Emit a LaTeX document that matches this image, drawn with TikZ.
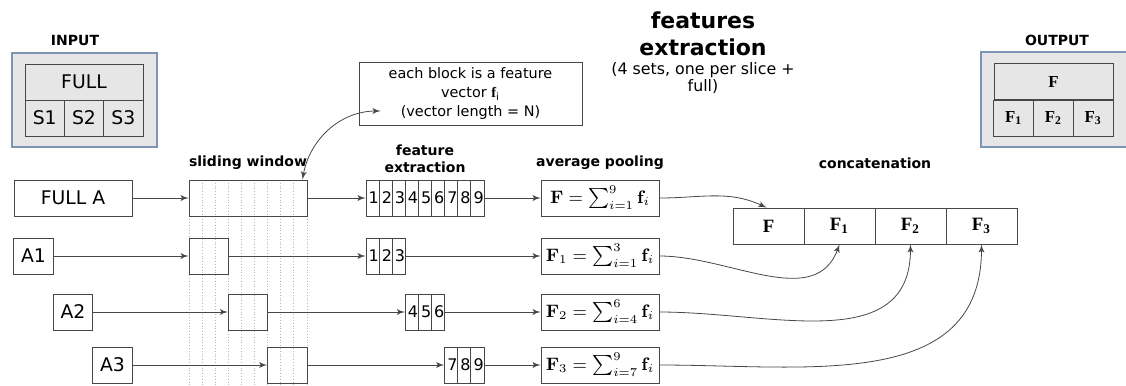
\documentclass[tikz,border=0pt]{standalone}
\usepackage[no-math]{fontspec}
\setmainfont{DejaVu Sans}
\newfontfamily\tms{Liberation Serif}
\usetikzlibrary{arrows}

\definecolor{linegray}{HTML}{474747}
\definecolor{panelfill}{HTML}{E6E6E6}
\definecolor{panelline}{HTML}{7A95B5}
\definecolor{gridgray}{HTML}{B8B8B8}

\begin{document}
\begin{tikzpicture}[x=0.5pt,y=0.5pt,->,>=latex',
        every node/.style={inner sep=0pt},
        box/.style={draw=linegray,line width=0.45pt,minimum height=18pt},
        bigbox/.style={box,minimum width=59pt,font=\fontsize{9.4}{11}\selectfont},
        smallbox/.style={box,minimum width=19.67pt,font=\fontsize{9.4}{11}\selectfont},
        fcell/.style={box,minimum width=6.555pt,font=\fontsize{8}{9}\selectfont},
        poolbox/.style={box,minimum width=59pt,font=\fontsize{9}{11}\selectfont},
        catcell/.style={box,minimum width=35.5pt,font=\tms\bfseries\fontsize{9.4}{11}\selectfont},
        outcell/.style={box,minimum width=19.83pt,font=\tms\bfseries\fontsize{8.4}{9}\selectfont},
        panel/.style={draw=panelline,fill=panelfill,line width=0.6pt},
        head/.style={font=\fontsize{7}{8.5}\selectfont\bfseries,align=center},
        gridline/.style={-,draw=gridgray,densely dotted,line width=0.4pt},
        flow/.style={draw=linegray,line width=0.4pt},
        every edge/.style={flow}]

    \useasboundingbox (0,0) rectangle (1126,-386);

    % input / output panels
    \node[panel, minimum width=72.5pt, minimum height=47pt] (inpanel)  at (84.5,-100) {};
    \node[panel, minimum width=79.5pt, minimum height=47.5pt] (outpanel) at (1060.5,-99.5) {};
    \node[head] (inlabel)  at (75,-40)   {INPUT};
    \node[head] (outlabel) at (1057,-40) {OUTPUT};

    \node[bigbox]   (infull) at (84,-82)     {FULL};
    \node[smallbox] (ins1)   at (44.7,-118)  {S1};
    \node[smallbox] (ins2)   at (84,-118)    {S2};
    \node[smallbox] (ins3)   at (123.3,-118) {S3};

    \node[outcell, minimum width=59.5pt] (outfull) at (1053.5,-81.5) {F};
    \node[outcell] (outf1) at (1013.7,-118) {F\textsubscript{1}};
    \node[outcell] (outf2) at (1053.5,-118) {F\textsubscript{2}};
    \node[outcell] (outf3) at (1093.3,-118) {F\textsubscript{3}};

    % titles
    \node[font=\fontsize{11}{13.5}\selectfont\bfseries, align=center] (title) at (703,-33.5) {features\\extraction};
    \node[font=\fontsize{7.9}{8.5}\selectfont, align=center] (subtitle) at (703,-78.5) {(4 sets, one per slice +\\full)};

    \node[box, minimum width=111.5pt, minimum height=31.5pt, align=center,
          font=\fontsize{7.2}{9.5}\selectfont] (note) at (470.5,-93.5)
          {each block is a feature\\vector {\tms\bfseries f}\textsubscript{i}\\(vector length = N)};

    \node[head] (slidehead) at (248,-163)   {sliding window};
    \node[head] (feathead)  at (425,-158.5) {feature\\extraction};
    \node[head] (poolhead)  at (600,-163)   {average pooling};
    \node[head] (cathead)   at (875,-163)   {concatenation};

    % sliding window grid
    \foreach \k in {0,...,9}
        \draw[gridline] ({189+\k*13.11},-180) -- ({189+\k*13.11},-386);

    % inputs
    \node[bigbox]   (fulla) at (73,-198)    {FULL A};
    \node[smallbox] (a1)    at (33.5,-256)  {A1};
    \node[smallbox] (a2)    at (73,-312)    {A2};
    \node[smallbox] (a3)    at (112.5,-365) {A3};

    % windows
    \node[bigbox]   (win0) at (248,-198)   {};
    \node[smallbox] (win1) at (208.7,-256) {};
    \node[smallbox] (win2) at (248,-312)   {};
    \node[smallbox] (win3) at (287.3,-365) {};

    % feature vectors
    \foreach \k in {1,...,9}
        \node[fcell] (full\k) at ({366+(\k-0.5)*13.11},-198) {\hspace*{1.2pt}\k};
    \foreach \k/\yy in {1/-256,2/-256,3/-256,4/-312,5/-312,6/-312,7/-365,8/-365,9/-365}
        \node[fcell] (s\k) at ({366+(\k-0.5)*13.11},\yy) {\hspace*{1.2pt}\k};

    % pooling
    \node[poolbox] (pool0) at (600,-198) {$\mathbf{F} = \sum_{i=1}^{9} \mathbf{f}_i$};
    \node[poolbox] (pool1) at (600,-256) {$\mathbf{F}_1 = \sum_{i=1}^{3} \mathbf{f}_i$};
    \node[poolbox] (pool2) at (600,-312) {$\mathbf{F}_2 = \sum_{i=4}^{6} \mathbf{f}_i$};
    \node[poolbox] (pool3) at (600,-365) {$\mathbf{F}_3 = \sum_{i=7}^{9} \mathbf{f}_i$};

    % concatenation
    \node[catcell] (cat0) at (768.5,-226) {F};
    \node[catcell] (cat1) at (839.5,-226) {F\textsubscript{1}};
    \node[catcell] (cat2) at (910.5,-226) {F\textsubscript{2}};
    \node[catcell] (cat3) at (981.5,-226) {F\textsubscript{3}};

    \path (fulla) edge (win0)
          (a1)    edge (win1)
          (a2)    edge (win2)
          (a3)    edge (win3)
          (win0)  edge (full1)
          (win1)  edge (s1)
          (win2)  edge (s4)
          (win3)  edge (s7)
          (full9) edge (pool0)
          (s3)    edge (pool1)
          (s6)    edge (pool2)
          (s9)    edge (pool3)
          (pool0.east) edge[out=0, in=155]  ([xshift=-1pt]cat0.north)
          (pool1.east) edge[out=0, in=-110] (cat1.south)
          (pool2.east) edge[out=0, in=-90, looseness=1.1] (cat2.south)
          (pool3.east) edge[out=0, in=-90, looseness=1.1] (cat3.south);

    \draw[flow, <->] ([xshift=-2.5pt]win0.north east) to[out=80, in=180] ([xshift=11pt, yshift=-8.75pt]note.west);

\end{tikzpicture}
\end{document}
